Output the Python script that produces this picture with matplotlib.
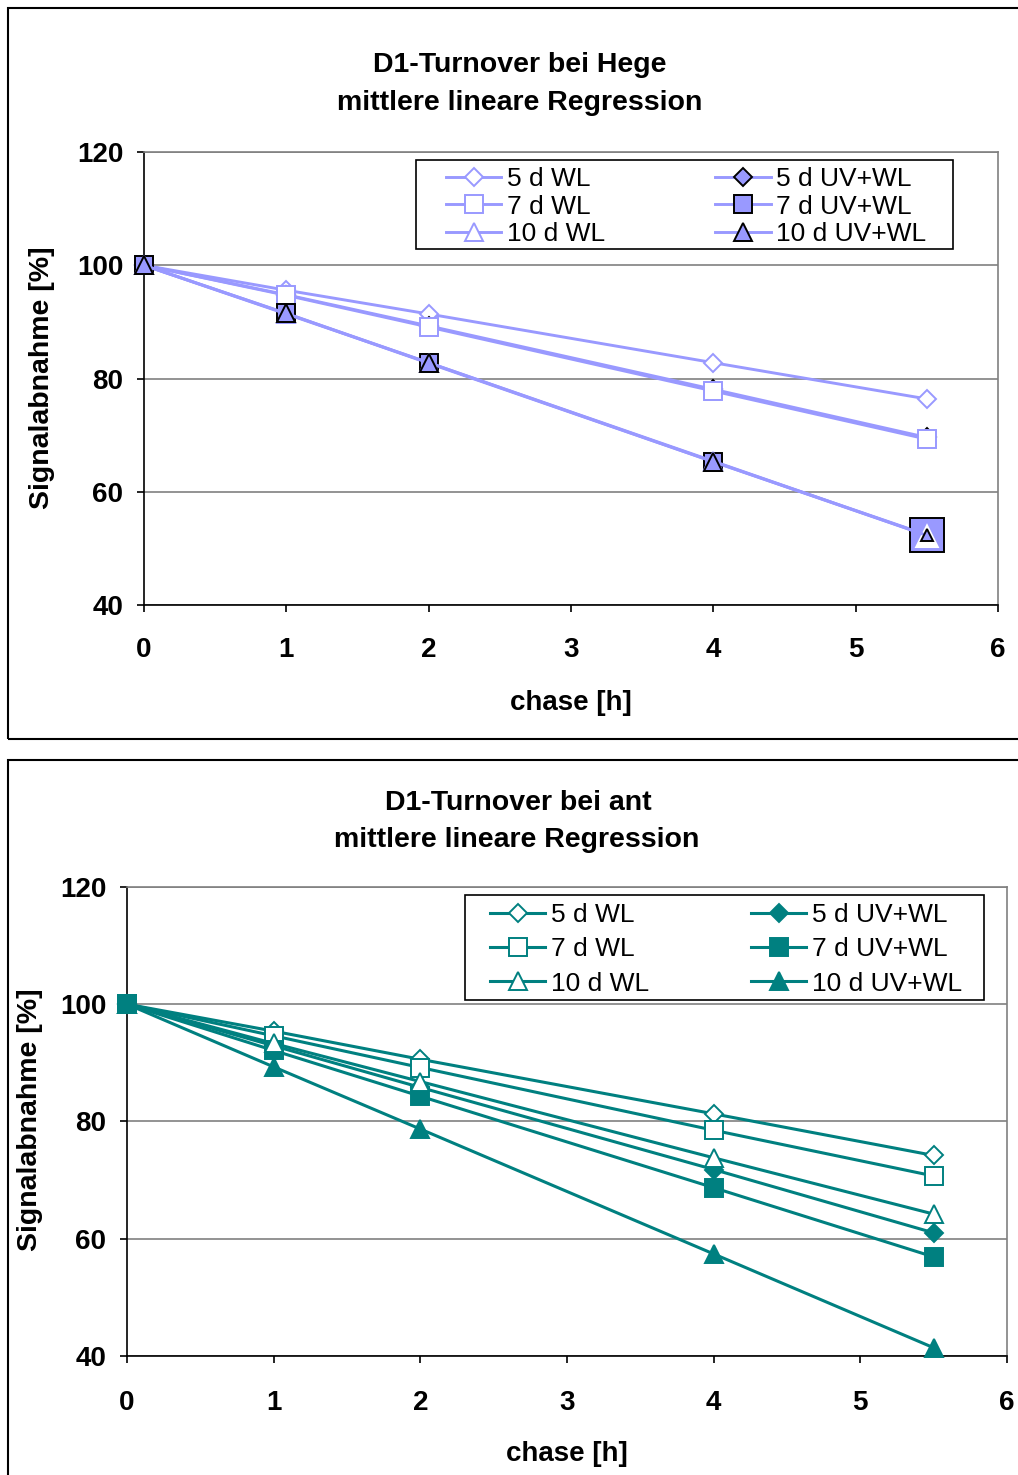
import numpy as np
import matplotlib.pyplot as plt
from matplotlib.patches import Rectangle

# ----------------------------
# Global plotting style
# ----------------------------
plt.rcParams["font.family"] = ["Liberation Sans", "DejaVu Sans"]
plt.rcParams["font.weight"] = "bold"

# ----------------------------
# Data
# ----------------------------
chase = [0, 1, 2, 4, 5.5]
series_labels = ["5 d WL", "5 d UV+WL", "7 d WL", "7 d UV+WL", "10 d WL", "10 d UV+WL"]

# D1-Turnover bei Hege
hege_5d_wl = [100, 95.6, 91.4, 82.8, 76.4]
hege_5d_uv = [100, 94.8, 89.3, 78.1, 69.6]
hege_7d_wl = [100, 94.7, 89.1, 77.8, 69.3]
hege_7d_uv = [100, 91.5, 82.7, 65.3, 52.4]
hege_10d_wl = [100, 91.4, 82.8, 65.4, 52.3]
hege_10d_uv = [100, 91.5, 82.8, 65.3, 52.3]

# D1-Turnover bei ant
ant_5d_wl = [100, 95.4, 90.6, 81.3, 74.2]
ant_5d_uv = [100, 92.9, 85.8, 71.8, 61.0]
ant_7d_wl = [100, 94.6, 89.2, 78.5, 70.7]
ant_7d_uv = [100, 92.1, 84.3, 68.7, 56.9]
ant_10d_wl = [100, 93.3, 86.8, 73.8, 64.2]
ant_10d_uv = [100, 89.3, 78.7, 57.4, 41.4]

y_ticks = [40, 60, 80, 100, 120]
x_ticks = [0, 1, 2, 3, 4, 5, 6]

markers = ["D", "D", "s", "s", "^", "^"]
marker_sizes = {"D": 8.7, "s": 12.5, "^": 12.5}
filled = [False, True, False, True, False, True]


def draw_panel(ax, data, color, uv_edge, lw, last_ms):
    handles = []
    for i, y in enumerate(data):
        m = markers[i]
        ms = marker_sizes[m]
        face = color if filled[i] else "white"
        edge = uv_edge if filled[i] else color
        h, = ax.plot(chase, y, color=color, lw=lw, marker=m, ms=ms,
                     markerfacecolor=face, markeredgecolor=edge,
                     markeredgewidth=1.4, markevery=list(range(len(chase) - 1)),
                     label=series_labels[i], clip_on=False, zorder=3 + i)
        # last point (Excel per-point marker sizes in the top chart)
        ax.plot(chase[-1:], y[-1:], ls="none", marker=m,
                ms=last_ms[i] if last_ms else ms,
                markerfacecolor=face, markeredgecolor=edge,
                markeredgewidth=1.4, clip_on=False, zorder=3 + i)
        handles.append(h)

    ax.set_xlim(0, 6)
    ax.set_ylim(40, 120)
    ax.set_xticks(x_ticks)
    ax.set_yticks(y_ticks)
    ax.yaxis.grid(True, color="#808080", lw=1.2)
    ax.set_axisbelow(True)
    for s in ["top", "right"]:
        ax.spines[s].set_color("#808080")
        ax.spines[s].set_linewidth(1.2)
    for s in ["left", "bottom"]:
        ax.spines[s].set_color("black")
        ax.spines[s].set_linewidth(1.2)
    ax.tick_params(axis="both", direction="out", length=5, width=1.2, labelsize=20)
    return handles


def add_legend(ax, handles, anchor, spacing, frame):
    # WL entries in first column, UV+WL in second
    order = [0, 2, 4, 1, 3, 5]
    ax.legend([handles[k] for k in order], [series_labels[k] for k in order],
              ncol=2, loc="upper left", bbox_to_anchor=anchor, mode="expand",
              frameon=False, borderpad=0, borderaxespad=0,
              handlelength=2.1, handletextpad=0.2, labelspacing=spacing,
              prop={"weight": "normal", "size": 19})
    ax.add_patch(Rectangle(frame[:2], frame[2], frame[3], transform=ax.transAxes,
                           fill=False, ec="black", lw=1.2, zorder=20, clip_on=False))


fig = plt.figure(figsize=(10.18, 14.75), dpi=100)

# outer frames of the two chart objects
fig.add_artist(Rectangle((0.0079, 0.4990), 1.2, 0.4956, transform=fig.transFigure,
                         fill=False, ec="black", lw=1.5))
fig.add_artist(Rectangle((0.0079, -0.2), 1.2, 0.6847, transform=fig.transFigure,
                         fill=False, ec="black", lw=1.5))

# ---- top chart ----
ax1 = fig.add_axes([0.1415, 0.5898, 0.8389, 0.3071])
top = [hege_5d_wl, hege_5d_uv, hege_7d_wl, hege_7d_uv, hege_10d_wl, hege_10d_uv]
h1 = draw_panel(ax1, top, "#9999FF", "black", 2.1, [8.7, 8.7, 12.5, 25, 20, 9])
ax1.tick_params(axis="y", pad=10)
ax1.tick_params(axis="x", pad=18)
add_legend(ax1, h1, (0.3536, 0.0, 0.562, 0.9669), 0.134,
           (0.3185, 0.7859, 0.6288, 0.1965))

fig.text(0.5103, 0.956, "D1-Turnover bei Hege", ha="center", va="center", fontsize=20.5)
fig.text(0.5103, 0.930, "mittlere lineare Regression", ha="center", va="center", fontsize=20.5)
fig.text(0.561, 0.5234, "chase [h]", ha="center", va="center", fontsize=20)
fig.text(0.0413, 0.7437, "Signalabnahme [%]", ha="center", va="center",
         rotation=90, fontsize=20.5)

# ---- bottom chart ----
ax2 = fig.add_axes([0.1248, 0.0807, 0.8644, 0.3180])
bottom = [ant_5d_wl, ant_5d_uv, ant_7d_wl, ant_7d_uv, ant_10d_wl, ant_10d_uv]
h2 = draw_panel(ax2, bottom, "#008080", "#008080", 2.2, None)
ax2.tick_params(axis="y", pad=10)
ax2.tick_params(axis="x", pad=19.5)
add_legend(ax2, h2, (0.4125, 0.0, 0.536, 0.9659), 0.394,
           (0.384, 0.759, 0.590, 0.224))

fig.text(0.5088, 0.4556, "D1-Turnover bei ant", ha="center", va="center", fontsize=20.5)
fig.text(0.5079, 0.4305, "mittlere lineare Regression", ha="center", va="center", fontsize=20.5)
fig.text(0.557, 0.0143, "chase [h]", ha="center", va="center", fontsize=20)
fig.text(0.0295, 0.2407, "Signalabnahme [%]", ha="center", va="center",
         rotation=90, fontsize=20.5)

fig.savefig("out.png", dpi=100)
